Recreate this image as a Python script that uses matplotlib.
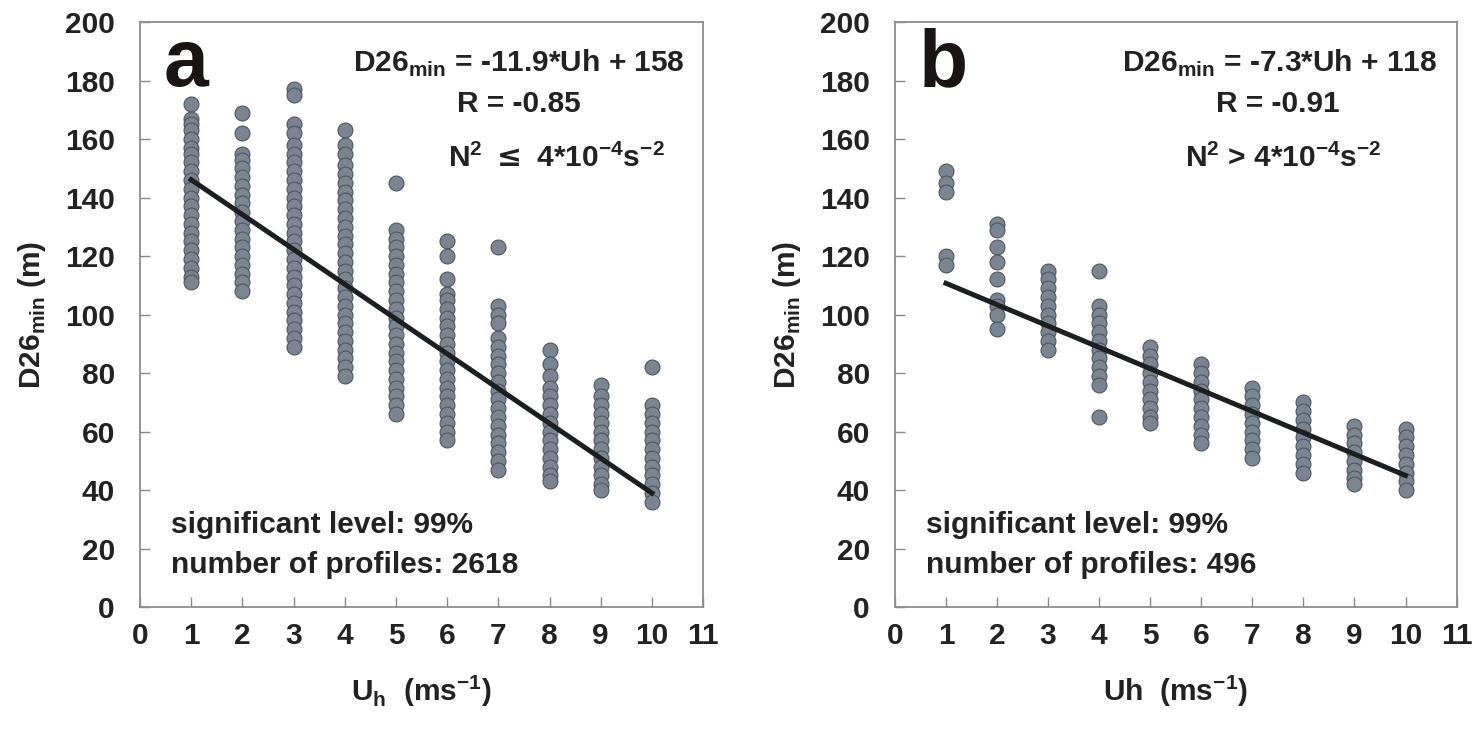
import matplotlib
matplotlib.use('Agg')
import matplotlib.pyplot as plt

plt.rcParams['font.family'] = ['Liberation Sans', 'DejaVu Sans']
plt.rcParams['font.weight'] = 'bold'
plt.rcParams['axes.labelweight'] = 'bold'

# ---- data ----
uh_levels = [1, 2, 3, 4, 5, 6, 7, 8, 9, 10]

d26_a = [
    [172, 167, 165, 163, 160, 157, 155, 152, 149, 146, 143, 140, 137, 134, 131, 128, 125, 122, 119, 116, 113, 111],
    [169, 162, 155, 153, 150, 147, 144, 141, 138, 135, 132, 129, 126, 123, 120, 117, 114, 111, 108],
    [177, 175, 165, 162, 158, 155, 152, 149, 146, 143, 140, 137, 134, 131, 128, 125, 122, 119, 116, 113, 110, 107, 104, 101, 98, 95, 92, 89],
    [163, 158, 155, 151, 148, 145, 142, 139, 136, 133, 130, 127, 124, 121, 118, 115, 112, 109, 106, 103, 100, 97, 94, 91, 88, 85, 82, 79],
    [145, 129, 126, 123, 120, 117, 114, 111, 108, 105, 102, 99, 96, 93, 90, 87, 84, 81, 78, 75, 72, 69, 66],
    [125, 120, 112, 107, 105, 102, 99, 96, 93, 90, 87, 84, 81, 78, 75, 72, 69, 66, 63, 60, 57],
    [123, 103, 100, 97, 92, 89, 86, 83, 80, 77, 74, 71, 68, 65, 62, 59, 56, 53, 50, 47],
    [88, 83, 79, 75, 72, 69, 66, 63, 60, 57, 54, 51, 48, 45, 43],
    [76, 72, 69, 66, 63, 60, 57, 54, 51, 48, 45, 42, 40],
    [82, 69, 66, 63, 60, 57, 54, 51, 48, 45, 42, 39, 36],
]

d26_b = [
    [149, 145, 142, 120, 117],
    [131, 129, 123, 118, 112, 105, 103, 100, 95],
    [115, 112, 109, 106, 103, 100, 97, 94, 91, 88],
    [115, 103, 100, 97, 94, 91, 88, 85, 82, 79, 76, 65],
    [89, 86, 83, 80, 77, 74, 71, 68, 65, 63],
    [83, 80, 77, 74, 71, 68, 65, 62, 59, 56],
    [75, 72, 69, 66, 63, 60, 57, 54, 51],
    [70, 67, 64, 61, 58, 55, 52, 49, 46],
    [62, 59, 56, 53, 50, 47, 44, 42],
    [61, 58, 55, 52, 49, 46, 43, 40],
]

fit_a = (-11.9, 158)
fit_b = (-7.3, 118)

panels = [
    dict(label='a', data=d26_a, fit=fit_a,
         eq=r'D26$_{\mathregular{min}}$ = -11.9*Uh + 158', r='R = -0.85',
         n2=r'N$^{\mathregular{2}}$ $\leq$ 4*10$^{\mathregular{-4}}$s$^{\mathregular{-2}}$',
         n=2618, xlabel=r'U$_{\mathregular{h}}$  (ms$^{\mathregular{-1}}$)',
         eqx=0.672, rx=0.672, n2x=0.739),
    dict(label='b', data=d26_b, fit=fit_b,
         eq=r'D26$_{\mathregular{min}}$ = -7.3*Uh + 118', r='R = -0.91',
         n2=r'N$^{\mathregular{2}}$ > 4*10$^{\mathregular{-4}}$s$^{\mathregular{-2}}$',
         n=496, xlabel=r'Uh  (ms$^{\mathregular{-1}}$)',
         eqx=0.685, rx=0.682, n2x=0.691),
]

FS = 21.5
TXT = '#222222'

fig = plt.figure(figsize=(14.78, 7.35), dpi=100)
rects = [[0.0947, 0.174, 0.381, 0.796], [0.6055, 0.174, 0.380, 0.796]]

for rect, p in zip(rects, panels):
    ax = fig.add_axes(rect)
    for x, ys in zip(uh_levels, p['data']):
        ax.scatter([x] * len(ys), ys, s=115, color='#7b8591',
                   edgecolor='#4d565e', linewidth=0.8, zorder=2)
    k, b0 = p['fit']
    ax.plot([uh_levels[0], uh_levels[-1]],
            [k * uh_levels[0] + b0, k * uh_levels[-1] + b0],
            color='#1b1f21', lw=3.6, zorder=3)

    ax.set_xlim(0, 11)
    ax.set_ylim(0, 200)
    ax.set_xticks(range(0, 12))
    ax.set_yticks(range(0, 201, 20))
    ax.tick_params(direction='in', length=7, width=1, color='#888888',
                   labelsize=FS, labelcolor=TXT)
    ax.tick_params(axis='x', pad=11)
    ax.tick_params(axis='y', pad=18)
    for sp in ax.spines.values():
        sp.set_color('#8c8c8c')
        sp.set_linewidth(1.3)

    ax.set_xlabel(p['xlabel'], fontsize=FS, color=TXT, labelpad=16)
    ax.set_ylabel(r'D26$_{\mathregular{min}}$ (m)', fontsize=FS,
                  color=TXT, labelpad=12)

    ax.text(0.042, 0.89, p['label'], transform=ax.transAxes, fontsize=58,
            fontweight='bold', color='#1a1414')
    tkw = dict(transform=ax.transAxes, fontsize=FS, color=TXT, ha='center')
    ax.text(p['eqx'], 0.915, p['eq'], **tkw)
    ax.text(p['rx'], 0.846, p['r'], **tkw)
    ax.text(p['n2x'], 0.752, p['n2'], **tkw)
    ax.text(0.055, 0.126, 'significant level: 99%', transform=ax.transAxes,
            fontsize=FS, color=TXT)
    ax.text(0.055, 0.058, 'number of profiles: %d' % p['n'],
            transform=ax.transAxes, fontsize=FS, color=TXT)

fig.savefig('out.png', dpi=100, facecolor='white')
